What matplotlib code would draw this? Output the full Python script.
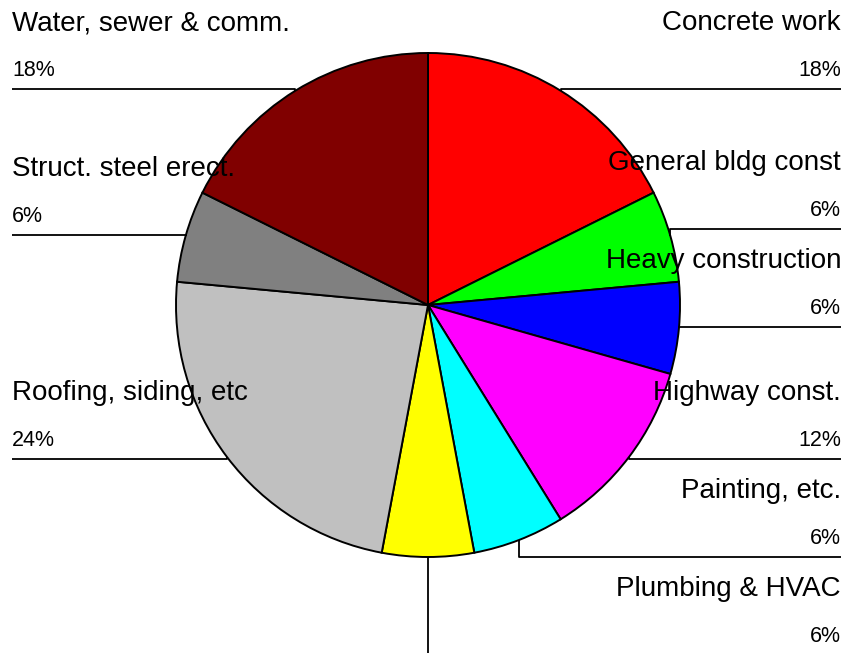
import numpy as np
import matplotlib
matplotlib.use("Agg")
import matplotlib.pyplot as plt

plt.rcParams['font.family'] = ['Liberation Sans', 'DejaVu Sans']

# ---- data ----
categories = ["Concrete work", "General bldg const", "Heavy construction",
              "Highway const.", "Painting, etc.", "Plumbing & HVAC",
              "Roofing, siding, etc", "Struct. steel erect.", "Water, sewer & comm."]
counts = [3, 1, 1, 2, 1, 1, 4, 1, 3]
colors = ["#FF0000", "#00FF00", "#0000FF", "#FF00FF", "#00FFFF",
          "#FFFF00", "#C0C0C0", "#808080", "#800000"]

# ---- layout ----
W, H = 847, 653
cx, cy_img, r = 428, 305, 252
label_line_y_img = [89, 229, 327, 459, 557, 655, 459, 235, 89]
left_x, right_x = 12, 841

fig = plt.figure(figsize=(W / 100, H / 100), dpi=100)
ax = fig.add_axes([0, 0, 1, 1])
cy = H - cy_img

wedges, _ = ax.pie(counts, colors=colors, startangle=90, counterclock=False,
                   center=(cx, cy), radius=r,
                   wedgeprops=dict(edgecolor='black', linewidth=1.4))
ax.set_xlim(0, W)
ax.set_ylim(0, H)
ax.set_aspect('equal')
ax.axis('off')

total = sum(counts)
for w, name, v, ly_img in zip(wedges, categories, counts, label_line_y_img):
    mid = np.deg2rad((w.theta1 + w.theta2) / 2)
    axp = cx + r * np.cos(mid)
    ayp = cy + r * np.sin(mid)
    right = np.cos(mid) > -1e-6
    ex = right_x if right else left_x
    ly = H - ly_img
    ax.plot([ex, axp, axp], [ly, ly, ayp], color='black', lw=1.3,
            solid_capstyle='butt', zorder=5, clip_on=False)
    ha = 'right' if right else 'left'
    ax.text(ex, ly + 66, name, ha=ha, va='center', fontsize=20, zorder=6)
    ax.text(ex, ly + 19, f"{round(v / total * 100)}%", ha=ha, va='center',
            fontsize=15.5, zorder=6)

fig.savefig("out.png", dpi=100)
